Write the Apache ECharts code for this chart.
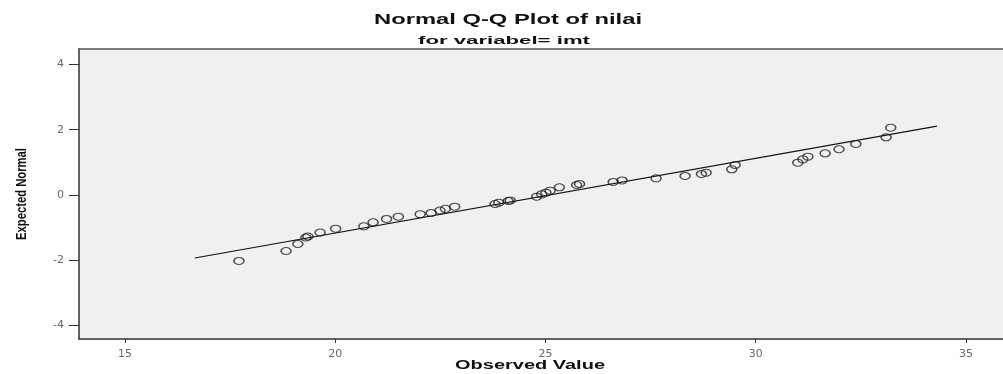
<!DOCTYPE html>
<html>
<head>
<meta charset="utf-8">
<script src="https://cdn.jsdelivr.net/npm/echarts@6/dist/echarts.min.js"></script>
<style>html,body{margin:0;padding:0;background:#fff;}#c{width:1003px;height:374px;}</style>
</head>
<body>
<div id="c"></div>
<script>
const titleText = 'Normal Q-Q Plot of nilai';
const subtitleText = 'for variabel= imt';
const xAxisName = 'Observed Value';
const yAxisName = 'Expected Normal';
const xTicks = [15, 20, 25, 30, 35];
const yTicks = [-4, -2, 0, 2, 4];
const observed = [17.71, 18.83, 19.11, 19.30, 19.35, 19.64, 20.01, 20.68, 20.90, 21.22, 21.50,
  22.02, 22.28, 22.49, 22.62, 22.84, 23.80, 23.89, 24.11, 24.16, 24.79, 24.91, 25.01, 25.11,
  25.33, 25.74, 25.81, 26.61, 26.82, 27.63, 28.32, 28.71, 28.82, 29.43, 29.51, 31.00, 31.12,
  31.24, 31.65, 31.98, 32.38, 33.10, 33.21];
const expectedNormal = [-2.021, -1.715, -1.501, -1.302, -1.271, -1.149, -1.032, -0.959, -0.836, -0.735, -0.665,
  -0.588, -0.551, -0.475, -0.423, -0.358, -0.276, -0.236, -0.184, -0.168, -0.052, 0.021, 0.070, 0.132,
  0.236, 0.306, 0.337, 0.398, 0.444, 0.511, 0.582, 0.643, 0.683, 0.787, 0.919, 0.989, 1.093,
  1.173, 1.277, 1.400, 1.562, 1.767, 2.061];
const lineX = [16.66, 34.31];
const lineY = [-1.93, 2.11];

// helper: text stretched/condensed horizontally to a target width
const mctx = document.createElement('canvas').getContext('2d');
function stretchedText(text, font, targetW, x, y, rotate) {
  mctx.font = font;
  const w = mctx.measureText(text).width;
  return {
    type: 'text', x: x, y: y, rotation: rotate || 0,
    scaleX: targetW / w, scaleY: 1,
    style: {text: text, font: font, fill: '#111', textAlign: 'center', textVerticalAlign: 'middle'},
    z: 10
  };
}

const chart = echarts.init(document.getElementById('c'), null, {renderer: 'canvas'});
const tickLabelStyle = {color: '#6a6a6a', fontSize: 11, fontFamily: 'DejaVu Sans'};
chart.setOption({
  backgroundColor: '#ffffff',
  animation: false,
  graphic: [
    stretchedText(titleText, 'bold 14px "Liberation Sans"', 268, 508, 20),
    stretchedText(subtitleText, 'bold 11px "Liberation Sans"', 172, 504, 41),
    stretchedText(xAxisName, 'bold 12px "Liberation Sans"', 150, 530, 366),
    stretchedText(yAxisName, 'bold 14px "Liberation Sans"', 92, 22, 194, Math.PI / 2)
  ],
  grid: {left: 79, right: 0, top: 49, bottom: 35, show: true, backgroundColor: '#f0f0f0', borderWidth: 0},
  xAxis: [{
    type: 'value', min: 13.906, max: 35.88, position: 'bottom',
    axisLine: {show: true, onZero: false, lineStyle: {color: '#333', width: 1.5}},
    axisTick: {show: true, length: 4, customValues: xTicks, lineStyle: {color: '#333'}},
    axisLabel: {customValues: xTicks, margin: 10, ...tickLabelStyle},
    splitLine: {show: false}
  }, {
    type: 'value', min: 13.906, max: 35.88, position: 'top',
    axisLine: {show: true, onZero: false, lineStyle: {color: '#555', width: 1.5}},
    axisTick: {show: false}, axisLabel: {show: false}, splitLine: {show: false}
  }],
  yAxis: {
    type: 'value', min: -4.41, max: 4.47,
    axisLine: {show: true, onZero: false, lineStyle: {color: '#333', width: 1.5}},
    axisTick: {show: true, length: 10, customValues: yTicks, lineStyle: {color: '#333'}},
    axisLabel: {customValues: yTicks, margin: 15, ...tickLabelStyle},
    splitLine: {show: false}
  },
  series: [{
    type: 'line',
    data: lineX.map((x, i) => [x, lineY[i]]),
    symbol: 'none',
    lineStyle: {color: '#111', width: 1.2},
    z: 2
  }, {
    type: 'scatter',
    data: observed.map((x, i) => [x, expectedNormal[i]]),
    symbol: 'circle',
    symbolSize: [10, 7],
    itemStyle: {color: 'rgba(0,0,0,0)', borderColor: '#222', borderWidth: 1.3},
    z: 3
  }]
});
</script>
</body>
</html>
